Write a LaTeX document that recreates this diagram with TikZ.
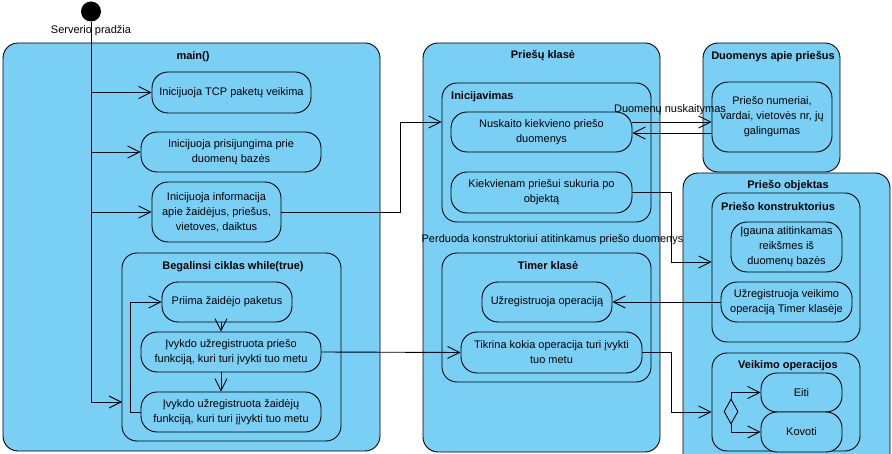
\documentclass[tikz,border=0pt]{standalone}
\usepackage{fontspec}
\setmainfont{Liberation Sans}
\usetikzlibrary{arrows.meta,shapes.geometric}
\definecolor{vpblue}{RGB}{122,207,245}
\begin{document}
\begin{tikzpicture}[x=1pt,y=-1pt,
  every node/.style={font=\fontsize{11}{15}\selectfont, text=black},
  box/.style={draw=black, line width=0.9pt, fill=vpblue, rounded corners=15pt, inner sep=0pt},
  act/.style={box, rounded corners=16pt, align=center},
  ttl/.style={font=\fontsize{11}{15}\selectfont\bfseries, inner sep=0pt},
  lbl/.style={inner sep=0pt},
  conn/.style={draw=black, line width=0.9pt},
  arr/.style={conn, -{Straight Barb[length=12pt,width=12pt]}}]
\useasboundingbox (0,0) rectangle (892,454);
\clip (0,0) rectangle (892,454);
\fill[white] (0,0) rectangle (892,454);

% initial node
\node[circle, fill=black, minimum size=20pt, inner sep=0pt] (init) at (91,11.5) {};
\node[lbl] (startlbl) at (91,31) {Serverio pradžia};

% containers
\node[box, minimum width=377pt, minimum height=408pt] (mainbox) at (191.5,247) {};
\node[ttl] (maint) at (193,57) {main()};
\node[box, minimum width=219pt, minimum height=188pt] (loopbox) at (231.5,347) {};
\node[ttl] (loopt) at (233,267) {Begalinsi ciklas while(true)};

\node[box, minimum width=237pt, minimum height=409pt] (priesbox) at (541.5,247.5) {};
\node[ttl] (priest) at (543,56) {Priešų klasė};
\node[box, minimum width=209pt, minimum height=139pt] (inicbox) at (546.5,152.5) {};
\node[ttl, anchor=west] (inict) at (451,97) {Inicijavimas};
\node[box, minimum width=209pt, minimum height=129pt] (timerbox) at (546.5,317.5) {};
\node[ttl] (timert) at (548,266) {Timer klasė};

\node[box, minimum width=137pt, minimum height=129pt] (duombox) at (771.5,107.5) {};
\node[ttl] (duomt) at (773,57) {Duomenys apie priešus};

\node[box, minimum width=207pt, minimum height=302pt] (objbox) at (786.5,324) {};
\node[ttl] (objt) at (788,186) {Priešo objektas};
\node[box, minimum width=148pt, minimum height=149pt] (konbox) at (786,267.5) {};
\node[ttl, anchor=west] (kont) at (721,206) {Priešo konstruktorius};
\node[box, minimum width=148pt, minimum height=98pt] (veikbox) at (786,402) {};
\node[ttl] (veikt) at (788,366) {Veikimo operacijos};

% activities in main()
\node[act, minimum width=159pt, minimum height=41pt] (tcp) at (231.5,92.5) {Inicijuoja TCP paketų veikima};
\node[act, minimum width=180pt, minimum height=40pt] (prisij) at (231,152) {Inicijuoja prisijungima prie\\duomenų bazės};
\node[act, minimum width=129pt, minimum height=60pt] (info) at (216.5,212) {Inicijuoja informacija\\apie žaidėjus, priešus,\\vietoves, daiktus};
\node[act, minimum width=130pt, minimum height=40pt] (priima) at (227,302) {Priima žaidėjo paketus};
\node[act, minimum width=180pt, minimum height=40pt] (ivpries) at (231,352) {Įvykdo užregistruota priešo\\funkciją, kuri turi įvykti tuo metu};
\node[act, minimum width=180pt, minimum height=40pt] (ivzaid) at (231,412) {Įvykdo užregistruota žaidėjų\\funkciją, kuri turi įįvykti tuo metu};

% activities in Priešų klasė
\node[act, minimum width=181pt, minimum height=40pt] (nusk) at (541.5,132) {Nuskaito kiekvieno priešo\\duomenys};
\node[act, minimum width=181pt, minimum height=41pt] (kiek) at (541.5,192.5) {Kiekvienam priešui sukuria po\\objektą};
\node[act, minimum width=130pt, minimum height=40pt] (uzop) at (547,302) {Užregistruoja operaciją};
\node[act, minimum width=181pt, minimum height=41pt] (tikr) at (551.5,352.5) {Tikrina kokia operacija turi įvykti\\tuo metu};

% Duomenys apie priešus
\node[act, minimum width=120pt, minimum height=70pt] (numer) at (772,117) {Priešo numeriai,\\vardai, vietovės nr, jų\\galingumas};

% Priešo objektas
\node[act, minimum width=111pt, minimum height=50pt] (igauna) at (786.5,247) {Įgauna atitinkamas\\reikšmes iš\\duomenų bazės};
\node[act, minimum width=131pt, minimum height=40pt] (uzveik) at (786.5,302) {Užregistruoja veikimo\\operaciją Timer klasėje};
\node[act, minimum width=81pt, minimum height=39pt] (eiti) at (801.5,392.5) {Eiti};
\node[act, minimum width=81pt, minimum height=40pt] (kovoti) at (801.5,432) {Kovoti};
\node[diamond, draw=black, line width=0.9pt, fill=vpblue, inner sep=0pt, aspect=0.56, minimum width=14pt, minimum height=25pt] (dec) at (731,411.5) {};

% labels
\node[lbl] (nusklbl) at (670,110) {Duomenų nuskaitymas};
\node[lbl] (perdlbl) at (552.5,240) {Perduoda konstruktoriui atitinkamus priešo duomenys};

% connectors
\coordinate (loopin) at (122,402);
\draw[arr] (init.south) |- (loopin);
\draw[arr] (init.south |- tcp.west) -- (tcp.west);
\draw[arr] (init.south |- prisij.west) -- (prisij.west);
\draw[arr] (init.south |- info.west) -- (info.west);

\draw[arr] (priima.south -| 221,0) -- (ivpries.north -| 221,0);
\draw[arr] (ivpries.south -| 221,0) -- (ivzaid.north -| 221,0);
\draw[arr] (ivzaid.west) -- ++(-10,0) |- (priima.west);

\draw[arr] (info.east) -| (400,122) -- (inicbox.west |- 400,122);
\draw[arr] (ivpries.east) -- (tikr.west);

\draw[arr] (nusk.east |- 0,122) -- (numer.west |- 0,122);
\draw[arr] (numer.west |- 0,133) -- (nusk.east |- 0,133);

\draw[arr] (kiek.east) -| (671,262) -- (konbox.west |- 671,262);
\draw[arr] (tikr.east) -| (671,412) -- (veikbox.west |- 671,412);
\draw[arr] (uzveik.west) -- (uzop.east);

\draw[arr] (dec.north) |- (eiti.west);
\draw[arr] (dec.south) |- (kovoti.west);
\end{tikzpicture}
\end{document}
